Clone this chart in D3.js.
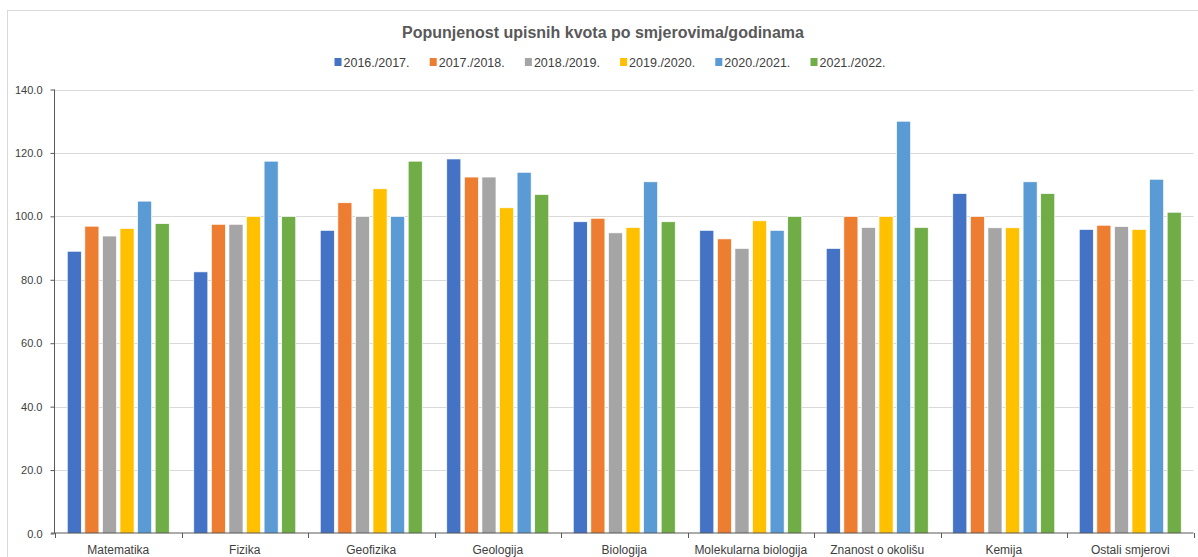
<!DOCTYPE html>
<meta charset="utf-8">
<style>
  body { margin: 0; background: #fff; }
  text { font-family: "Liberation Sans", Arial, sans-serif; }
  .grid line { stroke: #d9d9d9; stroke-width: 1px; }
  .axis path, .axis line { stroke: #595959; }
  .axis text { fill: #404040; }
</style>
<body>
<svg width="1198" height="557"></svg>
<script src="https://d3js.org/d3.v7.min.js"></script>
<script>

// categories (study programmes)
var categories = ["Matematika", "Fizika", "Geofizika", "Geologija", "Biologija",
    "Molekularna biologija", "Znanost o okolišu", "Kemija", "Ostali smjerovi"];

// academic years, one series each
var years = ["2016./2017.", "2017./2018.", "2018./2019.", "2019./2020.", "2020./2021.", "2021./2022."];
var colors = ["#4472c4", "#ed7d31", "#a5a5a5", "#ffc000", "#5b9bd5", "#70ad47"];

// values per year, same order as categories
var y2016 = [89.0, 82.5, 95.6, 118.1, 98.3, 95.6, 89.9, 107.2, 95.9];
var y2017 = [96.9, 97.5, 104.3, 112.4, 99.4, 92.9, 100.0, 100.0, 97.2];
var y2018 = [93.8, 97.5, 100.0, 112.4, 94.8, 89.9, 96.5, 96.4, 96.8];
var y2019 = [96.2, 100.0, 108.7, 102.7, 96.5, 98.6, 100.0, 96.4, 95.9];
var y2020 = [104.8, 117.4, 100.0, 113.9, 110.9, 95.6, 130.0, 110.9, 111.7];
var y2021 = [97.7, 100.0, 117.4, 106.9, 98.3, 100.0, 96.5, 107.2, 101.3];
var series = [y2016, y2017, y2018, y2019, y2020, y2021];

var yTicks = [0, 20, 40, 60, 80, 100, 120, 140];

var svg = d3.select("svg");

// outer chart border like the spreadsheet chart area
svg.append("rect")
    .attr("x", 7.5).attr("y", 10.5)
    .attr("width", 1200).attr("height", 560)
    .attr("fill", "#fff")
    .attr("stroke", "#d9d9d9");

var margin = {left: 55, right: 5, top: 89, bottom: 24};
var width = 1198, height = 557;

var x0 = d3.scaleBand()
    .domain(categories)
    .range([margin.left, margin.left + 126.5 * categories.length])
    .paddingInner(0).paddingOuter(0);

var groupW = 102;
var x1 = d3.scaleBand()
    .domain(d3.range(years.length))
    .range([(x0.bandwidth() - groupW) / 2, (x0.bandwidth() + groupW) / 2])
    .paddingInner(0.2);

var y = d3.scaleLinear()
    .domain([0, 140])
    .range([533.5, 89.5]);

// gridlines
svg.append("g").attr("class", "grid")
    .selectAll("line")
    .data(yTicks.slice(1))
    .enter().append("line")
    .attr("x1", margin.left).attr("x2", x0.range()[1])
    .attr("y1", function (d) { return Math.round(y(d)) + 0.5; })
    .attr("y2", function (d) { return Math.round(y(d)) + 0.5; });

// bars
var groups = svg.append("g")
    .selectAll("g")
    .data(categories)
    .enter().append("g")
    .attr("transform", function (d) { return "translate(" + x0(d) + ",0)"; });

groups.selectAll("rect")
    .data(function (d, i) {
        return series.map(function (s, k) { return {k: k, v: s[i]}; });
    })
    .enter().append("rect")
    .attr("x", function (d) { return x1(d.k); })
    .attr("width", x1.bandwidth())
    .attr("y", function (d) { return y(d.v); })
    .attr("height", function (d) { return y(0) - y(d.v); })
    .attr("fill", function (d) { return colors[d.k]; })
    .attr("stroke", "#fff")
    .attr("stroke-width", 0.7);

// y axis
var yAxis = svg.append("g").attr("class", "axis")
    .attr("transform", "translate(" + (margin.left - 0.5) + ",0)")
    .call(d3.axisLeft(y).tickValues(yTicks).tickSize(4).tickPadding(8)
        .tickFormat(d3.format(".1f")));
yAxis.select(".domain").attr("d", "M0," + y(140) + "V" + y(0));
yAxis.selectAll("text").style("font-size", "11px");

// x axis with ticks between categories
var xAxisG = svg.append("g").attr("class", "axis")
    .attr("transform", "translate(0," + (y(0) - 0.5) + ")");
xAxisG.append("line")
    .attr("x1", margin.left - 4).attr("x2", x0.range()[1])
    .attr("y1", 0).attr("y2", 0);
xAxisG.selectAll(".tk")
    .data(categories.concat(["end"]))
    .enter().append("line")
    .attr("class", "tk")
    .attr("x1", function (d, i) { return Math.round(margin.left + i * x0.step()) + 0.5; })
    .attr("x2", function (d, i) { return Math.round(margin.left + i * x0.step()) + 0.5; })
    .attr("y1", 0).attr("y2", 5);
xAxisG.selectAll("text")
    .data(categories)
    .enter().append("text")
    .attr("x", function (d) { return x0(d) + x0.bandwidth() / 2; })
    .attr("y", 21)
    .attr("text-anchor", "middle")
    .style("font-size", "12px")
    .text(function (d) { return d; });

// title
svg.append("text")
    .attr("x", 603).attr("y", 38)
    .attr("text-anchor", "middle")
    .style("font-size", "16px")
    .style("font-weight", "bold")
    .attr("fill", "#595959")
    .text("Popunjenost upisnih kvota po smjerovima/godinama");

// legend
var legendX = d3.scaleLinear().domain([0, 1]).range([334.5, 334.5 + 95.2]);
var legend = svg.append("g")
    .selectAll("g")
    .data(years)
    .enter().append("g")
    .attr("transform", function (d, i) { return "translate(" + legendX(i) + ",57)"; });
legend.append("rect")
    .attr("width", 7).attr("height", 8)
    .attr("y", 1)
    .attr("fill", function (d, i) { return colors[i]; });
legend.append("text")
    .attr("x", 9).attr("y", 9.5)
    .style("font-size", "12.5px")
    .attr("fill", "#404040")
    .text(function (d) { return d; });

</script>
</body>
